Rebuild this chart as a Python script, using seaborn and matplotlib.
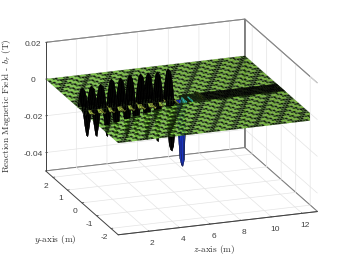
import numpy as np
import matplotlib
matplotlib.use("Agg")
import matplotlib.pyplot as plt
import seaborn as sns

sns.set_theme(style="white")
plt.rcParams['mathtext.fontset'] = 'cm'

x_ticks = [2, 4, 6, 8, 10, 12]
y_ticks = [-2, -1, 0, 1, 2]
z_ticks = [-0.04, -0.02, 0, 0.02]
x_tick_labels = ['2', '4', '6', '8', '10', '12']
y_tick_labels = ['-2', '-1', '0', '1', '2']
z_tick_labels = ['-0.04', '-0.02', '0', '0.02']
x_label = '$z$-axis (m)'
y_label = '$y$-axis (m)'
z_label = 'Reaction Magnetic Field - $b_r$ (T)'

parula = ['#1a1a6e', '#1a2fc8', '#1481d6', '#06a4ca', '#2eb7a4',
          '#6dbb4a', '#c9bb39', '#fec832', '#f9fb0e']
light_left = np.array([0.52, 0.82, 0.30])
light_right = np.array([0.45, 0.68, 0.20])
mid_left = np.array([0.20, 0.36, 0.12])
mid_right = np.array([0.16, 0.28, 0.08])
dark_cell = np.array([0.07, 0.12, 0.04])

up_x = [0.2, 0.8, 1.45, 2.15, 2.7, 3.35, 4.0, 4.5, 5.15, 5.8]
up_z = [0.011, 0.0115, 0.012, 0.014, 0.014, 0.015, 0.015, 0.015, 0.015, 0.016]
down_x = [0.2, 0.85, 1.5, 2.15, 2.8, 3.45, 4.1, 4.8, 5.75, 6.4]
down_z = [-0.0128, -0.0133, -0.014, -0.015, -0.016, -0.017, -0.018, -0.02, -0.026, -0.035]
up_profile = [0.55, 0.9, 1.0, 0.9, 0.55]
down_profile = [0.1, 0.6, 1.0, 0.6, 0.1]

wiggle_x = [6.6, 6.8, 7.0, 7.2, 7.6]
wiggle_z = [-0.003, 0.001, -0.003, 0.001, 0.002]
wiggle_colors = ['#2eb7a4', '#1d8f8a', '#2eb7a4', '#1d8f8a', '#f2e020']
wiggle_fill = '#15240a'

edge_x = [0.0, 5.8, 13.0]
edge_y = [-1.2, -0.25, -0.25]

# grids
x_base = np.linspace(0, 13, 73)
y_base = np.linspace(-2.5, 2.5, 39)
X, Y = np.meshgrid(x_base, y_base)
ix, iy = np.meshgrid(np.arange(len(x_base)), np.arange(len(y_base)))
Z = np.zeros_like(X)
t = (X / 13.0)[..., None]
light = light_left * (1 - t) + light_right * t
mid = mid_left * (1 - t) + mid_right * t
phase = (ix + iy) % 4
along = (ix - iy) % 8
colors = light.copy()
colors = np.where((phase == 3)[..., None], mid, colors)
colors = np.where((phase == 0)[..., None], dark_cell, colors)
colors = np.where(((phase == 1) & (along == 1))[..., None], dark_cell, colors)
colors = np.where(((phase == 2) & (along == 2))[..., None], dark_cell, colors)

limit = np.interp(X, edge_x, edge_y)
Z_back = np.where(Y >= limit - 0.14, Z, np.nan)
Z_front = np.where(Y <= limit, Z, np.nan)

x_fine = np.linspace(0, 13, 131)
y_fine = np.linspace(-0.5, 0.5, 11)
XF, YF = np.meshgrid(x_fine, y_fine)
ZF = np.full(XF.shape, np.nan)
ZF[(XF > 6.5) & (np.abs(YF) < 0.31)] = 0.0


def stamp(xs, zs, y0, profile):
    row = int(np.argmin(np.abs(y_fine - y0)))
    for xs_i, zs_i in zip(xs, zs):
        col = int(np.argmin(np.abs(x_fine - xs_i)))
        use = up_profile if abs(zs_i) > 0.025 else profile
        for dc, fc in enumerate(use):
            c = col + dc - 2
            if c < 0:
                continue
            for r in (row, row + 1):
                v = zs_i * fc
                if np.isnan(ZF[r, c]) or abs(v) > abs(ZF[r, c]):
                    ZF[r, c] = v
            for r in (row - 1, row + 2):
                if np.isnan(ZF[r, c]):
                    ZF[r, c] = 0.0
        for c in (col - 3, col + 3):
            if c >= 0:
                for r in range(row - 1, row + 3):
                    if np.isnan(ZF[r, c]):
                        ZF[r, c] = 0.0


stamp(up_x, up_z, 0.1, up_profile)
stamp(down_x, down_z, -0.2, down_profile)

cmap = sns.blend_palette(parula, as_cmap=True)
norm = matplotlib.colors.Normalize(-0.05, 0.02)
F = cmap(norm(np.nan_to_num(ZF)))
solid = np.abs(np.nan_to_num(ZF)) > 0.004
grown = solid.copy()
grown[:, :-1] |= solid[:, 1:]
grown[:-1, :] |= solid[1:, :]
grown[:-1, :-1] |= solid[1:, 1:]
F[grown & (XF < 6.1)] = (0, 0, 0, 1)
F[grown & (XF >= 6.1) & (XF < 6.5)] = (0.10, 0.20, 0.75, 1)
F[(XF >= 6.5) & (XF <= 7.9)] = matplotlib.colors.to_rgba(wiggle_fill)
F[XF > 7.9] = (0, 0, 0, 1)
for wx, wz, wc in zip(wiggle_x, wiggle_z, wiggle_colors):
    c = int(np.argmin(np.abs(x_fine - wx)))
    ZF[3:8, c] = wz
    F[3:7, c] = matplotlib.colors.to_rgba(wc)

fig = plt.figure(figsize=(3.5, 2.63), dpi=100)
ax = fig.add_axes([3/350, 1/263, 1, 1], projection='3d', proj_type='ortho',
                  computed_zorder=False)
ax.view_init(elev=18.7, azim=-110)
ax.set_box_aspect((1, 1, 0.64), zoom=1.215)
ax.set_xlim(0, 13, view_margin=0)
ax.set_ylim(-2.5, 2.5, view_margin=0)
ax.set_zlim(-0.05, 0.02, view_margin=0)

base = dict(rstride=1, cstride=1, shade=False, edgecolor='#3c6a1e', linewidth=0.08)
ax.plot_surface(X, Y, Z_back, facecolors=colors, zorder=2, **base)
ax.plot_surface(XF, YF, ZF, facecolors=F, rstride=1, cstride=1, shade=False,
                edgecolor='#101010', linewidth=0.12, zorder=3)
ax.plot_surface(X, Y, Z_front, facecolors=colors, zorder=4, **base)

box_x = [0, 0, 13, 13, 13, 13, 13]
box_y = [2.5, 2.5, 2.5, 2.5, 2.5, -2.5, -2.5]
box_z = [-0.05, 0.02, 0.02, -0.05, 0.02, 0.02, -0.05]
ax.plot(box_x, box_y, box_z, color='#808080', linewidth=0.7, zorder=1)

ax.set_xticks(x_ticks, x_tick_labels)
ax.set_yticks(y_ticks, y_tick_labels)
ax.set_zticks(z_ticks, z_tick_labels)
for axis in (ax.xaxis, ax.yaxis, ax.zaxis):
    axis.set_pane_color((1, 1, 1, 1))
    axis.pane.set_edgecolor('#808080')
    axis.pane.set_linewidth(0.7)
    axis.line.set_color('#404040')
    axis.line.set_linewidth(0.7)
    axis._axinfo['grid'].update(color='#e4e4e4', linewidth=0.5)
    axis._axinfo['tick'].update(inward_factor=0.0, outward_factor=0.12, linewidth={True: 0.5, False: 0.5}, color='#404040')
ax.tick_params(labelsize=6, colors='#404040', pad=-3.5)
ax.tick_params(axis='y', pad=-4.5)
for t_ in ax.get_xticklabels() + ax.get_yticklabels() + ax.get_zticklabels():
    t_.set_family('Liberation Sans')

fig.text(7/350, 1-106/263, z_label, rotation=90, family='cmr10', fontsize=6.7, color='#303030', ha='center', va='center')
fig.text(55.5/350, 1-239/263, y_label, family='cmr10', fontsize=6.7, color='#303030', ha='center', va='center')
fig.text(214/350, 1-249/263, x_label, family='cmr10', fontsize=6.7, color='#303030', ha='center', va='center')
fig.savefig('out.png', dpi=100)
